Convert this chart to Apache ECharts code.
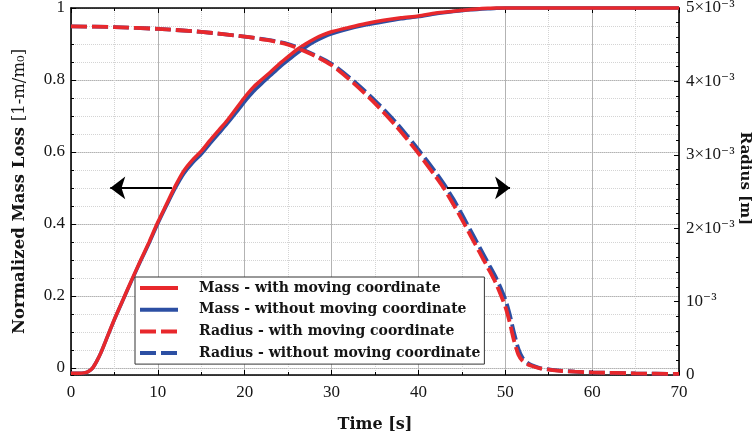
<!DOCTYPE html>
<html>
<head>
<meta charset="utf-8">
<script src="https://cdn.jsdelivr.net/npm/echarts@6/dist/echarts.min.js"></script>
<style>
  html, body { margin: 0; padding: 0; background: #ffffff; }
  #chart { width: 754px; height: 434px; }
</style>
</head>
<body>
<div id="chart"></div>
<script>
// Time samples [s] for the normalized mass loss curves
const timeMass = [0, 1, 1.5, 2, 2.5, 3, 3.5, 4, 5, 6, 7, 8, 9, 10, 11, 12, 13, 14, 15, 16, 17, 18, 19, 20,
  21, 22, 23, 24, 25, 26, 27, 28, 29, 30, 32, 34, 36, 38, 40, 42, 44, 46, 48, 49, 50, 55, 60, 65, 70];

// Normalized mass loss 1 - m/m0
const massWith = [-0.015, -0.015, -0.014, -0.010, 0.000, 0.020, 0.045, 0.075, 0.135, 0.190, 0.245, 0.298,
  0.350, 0.405, 0.455, 0.505, 0.548, 0.578, 0.602, 0.632, 0.660, 0.688, 0.720, 0.752,
  0.780, 0.802, 0.823, 0.845, 0.865, 0.884, 0.900, 0.914, 0.925, 0.934, 0.946, 0.957, 0.966, 0.973, 0.978,
  0.986, 0.991, 0.996, 0.999, 1.000, 1.000, 1.000, 1.000, 1.000, 1.000];
const massWithout = [-0.015, -0.015, -0.014, -0.010, 0.000, 0.020, 0.045, 0.075, 0.134, 0.189, 0.243, 0.296,
  0.347, 0.401, 0.451, 0.499, 0.540, 0.570, 0.594, 0.623, 0.651, 0.679, 0.709, 0.740,
  0.768, 0.791, 0.813, 0.835, 0.855, 0.874, 0.891, 0.906, 0.918, 0.928, 0.942, 0.953, 0.962, 0.970, 0.976,
  0.984, 0.990, 0.995, 0.998, 0.999, 1.000, 1.000, 1.000, 1.000, 1.000];

// Time samples [s] for the droplet radius curves
const timeRadius = [0, 5, 10, 15, 20, 22.5, 25, 27.5, 30, 32.5, 35, 37.5, 40, 42, 43, 44, 45, 46, 47, 48, 49,
  50, 50.5, 51, 51.5, 52, 52.5, 53, 54, 56, 58, 60, 65, 70];

// Droplet radius [m]
const radiusWith = [4.75e-3, 4.74e-3, 4.715e-3, 4.675e-3, 4.61e-3, 4.565e-3, 4.50e-3, 4.38e-3, 4.22e-3,
  3.98e-3, 3.70e-3, 3.38e-3, 3.02e-3, 2.70e-3, 2.53e-3, 2.33e-3, 2.12e-3, 1.90e-3, 1.68e-3, 1.46e-3, 1.23e-3,
  0.93e-3, 0.72e-3, 0.47e-3, 0.28e-3, 0.19e-3, 0.15e-3, 0.125e-3, 0.09e-3, 0.06e-3, 0.045e-3, 0.035e-3,
  0.022e-3, 0.015e-3];
const radiusWithout = [4.75e-3, 4.74e-3, 4.715e-3, 4.675e-3, 4.61e-3, 4.57e-3, 4.51e-3, 4.39e-3, 4.24e-3,
  4.01e-3, 3.74e-3, 3.43e-3, 3.07e-3, 2.76e-3, 2.59e-3, 2.40e-3, 2.19e-3, 1.97e-3, 1.75e-3, 1.53e-3, 1.31e-3,
  1.03e-3, 0.83e-3, 0.58e-3, 0.36e-3, 0.23e-3, 0.17e-3, 0.135e-3, 0.095e-3, 0.062e-3, 0.046e-3, 0.036e-3,
  0.022e-3, 0.015e-3];

// Legend entries, in display order
const seriesNames = [
  'Mass - with moving coordinate',
  'Mass - without moving coordinate',
  'Radius - with moving coordinate',
  'Radius - without moving coordinate'
];

// Radius axis tick labels (mantissa part, exponent shown as superscript)
const radiusTickLabels = ['0', '10', '2×10', '3×10', '4×10', '5×10'];

// Direction arrows [fromTime, fromMass, toTime, toMass]
const arrowNotes = [
  [11.62, 0.5, 4.52, 0.5],
  [43.27, 0.5, 50.55, 0.5]
];

const RED = '#e8282c';
const BLUE = '#2c4fa3';
const SERIF = 'Liberation Serif';
const SERIF_B = 'DejaVu Serif';
const INK = '#151515';

const pairs = (xs, ys) => xs.map((x, i) => [x, ys[i]]);

const frameLine = { show: true, onZero: false, lineStyle: { color: '#000', width: 1.6 } };
const majorGrid = { show: true, lineStyle: { color: '#b3b3b3', width: 1 } };
const minorGrid = { show: true, lineStyle: { color: '#d4d4d4', width: 1, type: 'dotted' } };

const lineBase = {
  type: 'line',
  showSymbol: false,
  symbol: 'none',
  smooth: 0.25,
  clip: false,
  silent: true
};

const chart = echarts.init(document.getElementById('chart'), null, { renderer: 'canvas' });

chart.setOption({
  animation: false,
  backgroundColor: '#ffffff',
  grid: { left: 71, right: 75, top: 8, bottom: 59, outerBoundsMode: 'none', containLabel: false },
  legend: {
    data: seriesNames,
    orient: 'vertical',
    left: 135,
    top: 277,
    padding: [4, 4, 4, 3],
    itemWidth: 38,
    itemHeight: 14,
    itemGap: 7.7,
    selectedMode: false,
    backgroundColor: '#ffffff',
    borderColor: '#333333',
    borderWidth: 1,
    borderRadius: 0,
    itemStyle: { opacity: 0 },
    lineStyle: { width: 4 },
    textStyle: {
      fontFamily: SERIF_B,
      fontWeight: 'bold',
      fontSize: 14,
      lineHeight: 14,
      color: INK,
      padding: [0, 0, 0, 16]
    }
  },
  xAxis: [
    {
      type: 'value',
      position: 'bottom',
      min: 0,
      max: 70,
      interval: 10,
      axisLine: frameLine,
      axisTick: { show: true, inside: true, length: 5, lineStyle: { color: '#000', width: 1 } },
      minorTick: { show: true, splitNumber: 2, length: 3, lineStyle: { color: '#000', width: 1 } },
      splitLine: majorGrid,
      minorSplitLine: minorGrid,
      axisLabel: { margin: 9, fontFamily: SERIF, fontSize: 17, color: INK },
      name: 'Time [s]',
      nameLocation: 'middle',
      nameGap: 42,
      nameMoveOverlap: false,
      nameTextStyle: { fontFamily: SERIF_B, fontWeight: 'bold', fontSize: 16, color: INK }
    },
    {
      type: 'value',
      position: 'top',
      min: 0,
      max: 70,
      interval: 10,
      axisLine: frameLine,
      axisTick: { show: true, inside: true, length: 5, lineStyle: { color: '#000', width: 1 } },
      minorTick: { show: true, splitNumber: 2, length: 3, lineStyle: { color: '#000', width: 1 } },
      splitLine: { show: false },
      axisLabel: { show: false }
    }
  ],
  yAxis: [
    {
      type: 'value',
      position: 'left',
      min: -0.02,
      max: 1,
      splitNumber: 5,
      axisLine: frameLine,
      axisTick: { show: true, inside: true, length: 5, lineStyle: { color: '#000', width: 1 } },
      splitLine: majorGrid,
      axisLabel: { showMinLabel: false, margin: 6, fontFamily: SERIF, fontSize: 17, color: INK },
      name: '{b|Normalized Mass Loss }{r|[1-m/m₀]}',
      nameLocation: 'middle',
      nameRotate: 90,
      nameGap: 43,
      nameMoveOverlap: false,
      nameTextStyle: {
        fontFamily: SERIF_B,
        fontSize: 16.5,
        color: INK,
        rich: {
          b: { fontFamily: SERIF_B, fontWeight: 'bold', fontSize: 16.5, color: INK },
          r: { fontFamily: SERIF_B, fontWeight: 'normal', fontSize: 16.5, color: INK }
        }
      }
    },
    {
      type: 'value',
      position: 'right',
      min: 0,
      max: 0.005,
      interval: 0.001,
      axisLine: frameLine,
      axisTick: { show: true, inside: true, length: 5, lineStyle: { color: '#000', width: 1 } },
      minorTick: { show: true, splitNumber: 5, length: 3, lineStyle: { color: '#000', width: 1 } },
      splitLine: { show: false },
      axisLabel: {
        margin: 7,
        color: INK,
        formatter: function (v) {
          const k = Math.round(v * 1000);
          return k === 0 ? '{n|0}' : '{n|' + radiusTickLabels[k] + '}{s|⁻³}';
        },
        rich: {
          n: { fontFamily: SERIF, fontSize: 17, color: INK },
          s: { fontFamily: 'DejaVu Serif', fontSize: 15, color: INK }
        }
      },
      name: 'Radius [m]',
      nameLocation: 'middle',
      nameRotate: -90,
      nameGap: 58,
      nameMoveOverlap: false,
      nameTextStyle: { fontFamily: SERIF_B, fontWeight: 'bold', fontSize: 15, color: INK, padding: [0, 26, 0, 0] }
    },
    {
      // finer horizontal grid for the mass axis
      type: 'value',
      position: 'left',
      min: -0.02,
      max: 1,
      splitNumber: 20,
      axisLine: { show: false, onZero: false },
      axisTick: { show: true, inside: true, length: 3, lineStyle: { color: '#000', width: 1 } },
      axisLabel: { show: false },
      splitLine: minorGrid
    }
  ],
  series: [
    Object.assign({}, lineBase, {
      name: seriesNames[1],
      xAxisIndex: 0,
      yAxisIndex: 0,
      color: BLUE,
      lineStyle: { color: BLUE, width: 3.5 },
      data: pairs(timeMass, massWithout)
    }),
    Object.assign({}, lineBase, {
      name: seriesNames[0],
      xAxisIndex: 0,
      yAxisIndex: 0,
      color: RED,
      lineStyle: { color: RED, width: 3.5 },
      data: pairs(timeMass, massWith),
      markLine: {
        silent: true,
        animation: false,
        symbol: ['none', 'arrow'],
        symbolSize: [17, 15],
        label: { show: false },
        emphasis: { disabled: true },
        lineStyle: { color: '#000000', width: 2, type: 'solid' },
        data: arrowNotes.map(a => [{ coord: [a[0], a[1]] }, { coord: [a[2], a[3]] }])
      }
    }),
    Object.assign({}, lineBase, {
      name: seriesNames[3],
      xAxisIndex: 0,
      yAxisIndex: 1,
      color: BLUE,
      lineStyle: { color: BLUE, width: 3.8, type: [16, 5] },
      data: pairs(timeRadius, radiusWithout)
    }),
    Object.assign({}, lineBase, {
      name: seriesNames[2],
      xAxisIndex: 0,
      yAxisIndex: 1,
      color: RED,
      lineStyle: { color: RED, width: 3.8, type: [16, 5] },
      data: pairs(timeRadius, radiusWith)
    })
  ]
});
</script>
</body>
</html>
